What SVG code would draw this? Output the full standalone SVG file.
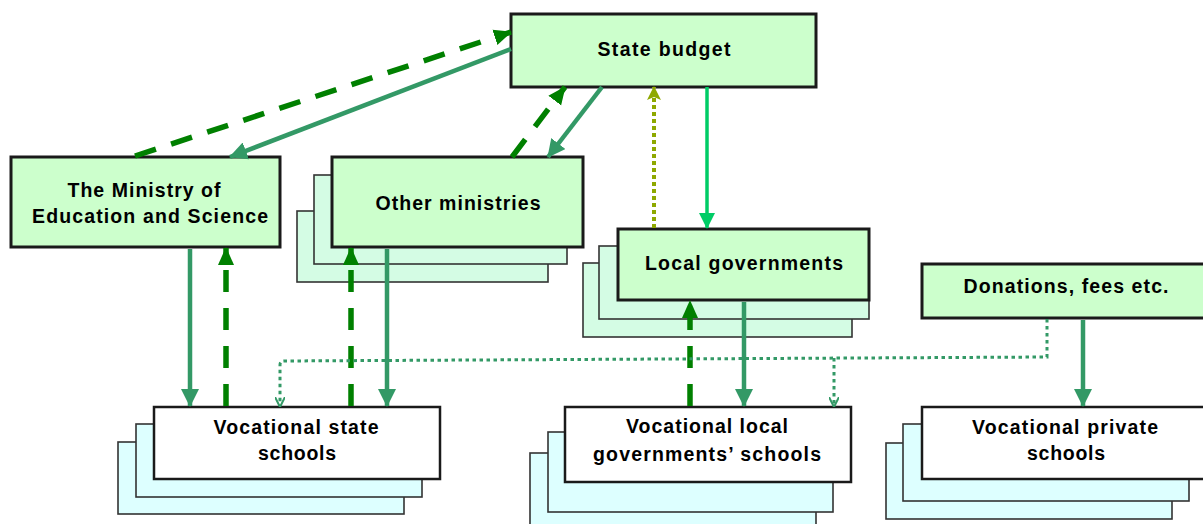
<svg xmlns="http://www.w3.org/2000/svg" width="1203" height="524" viewBox="0 0 1203 524">
<style>
.front{fill:#ccffcc;stroke:#1a1a1a;stroke-width:3}
.school{fill:#ffffff;stroke:#1a1a1a;stroke-width:2.5}
.backg{fill:#d4fce4;stroke:#333333;stroke-width:1.6}
.backc{fill:#ddffff;stroke:#333333;stroke-width:1.6}
text{font-family:"Liberation Sans",Arial,sans-serif;font-weight:bold;font-size:19.5px;fill:#000;text-anchor:middle}
.solid{stroke:#339966;stroke-width:4.5;fill:none}
.dash{stroke:#008000;stroke-width:5.5;fill:none;stroke-dasharray:22 16}
.bright{stroke:#00cc66;stroke-width:3.5;fill:none}
.olive{stroke:#8ea800;stroke-width:4;fill:none;stroke-dasharray:4 3}
.dot{stroke:#339966;stroke-width:3;fill:none;stroke-dasharray:3.5 3.5}
</style>
<defs>
<marker id="hSolid" markerUnits="userSpaceOnUse" markerWidth="18" markerHeight="18" viewBox="0 0 18 18" refX="17" refY="9" orient="auto"><path d="M0,0 L18,9 L0,18 Z" fill="#339966"/></marker>
<marker id="hDash" markerUnits="userSpaceOnUse" markerWidth="18" markerHeight="18" viewBox="0 0 18 18" refX="17" refY="9" orient="auto"><path d="M0,1 L18,9 L0,17 Z" fill="#008000"/></marker>
<marker id="hBright" markerUnits="userSpaceOnUse" markerWidth="16" markerHeight="16" viewBox="0 0 16 16" refX="15" refY="8" orient="auto"><path d="M0,0 L16,8 L0,16 Z" fill="#00cc66"/></marker>
<marker id="hOlive" markerUnits="userSpaceOnUse" markerWidth="14" markerHeight="14" viewBox="0 0 14 14" refX="13" refY="7" orient="auto"><path d="M0,0 L14,7 L0,14 L3,7 Z" fill="#8ea800"/></marker>
<marker id="hDot" markerUnits="userSpaceOnUse" markerWidth="10" markerHeight="10" viewBox="0 0 10 10" refX="9" refY="5" orient="auto"><path d="M0,0 L10,5 L0,10" fill="none" stroke="#339966" stroke-width="2"/></marker>
</defs>

<g id="state-budget">
<rect class="front" x="511" y="14" width="305" height="73"/>
<text x="664" y="56" textLength="133" lengthAdjust="spacing">State budget</text>
</g>

<g id="ministry-education">
<rect class="front" x="11" y="157" width="269" height="90"/>
<text x="144" y="197" textLength="153" lengthAdjust="spacing">The Ministry of</text>
<text x="150" y="223" textLength="236" lengthAdjust="spacing">Education and Science</text>
</g>

<g id="other-ministries">
<rect class="backg" x="297" y="211" width="251" height="71"/>
<rect class="backg" x="314" y="175" width="253" height="89"/>
<rect class="front" x="332" y="157" width="251" height="90"/>
<text x="458" y="210" textLength="165" lengthAdjust="spacing">Other ministries</text>
</g>

<g id="local-governments">
<rect class="backg" x="583" y="263" width="269" height="74"/>
<rect class="backg" x="599" y="246" width="270" height="73"/>
<rect class="front" x="618" y="229" width="251" height="71"/>
<text x="744" y="270" textLength="198" lengthAdjust="spacing">Local governments</text>
</g>

<g id="donations">
<rect class="front" x="922" y="264" width="290" height="54"/>
<text x="1066" y="293" textLength="205" lengthAdjust="spacing">Donations, fees etc.</text>
</g>

<g id="state-schools">
<rect class="backc" x="118" y="442" width="286" height="72"/>
<rect class="backc" x="136" y="424" width="286" height="73"/>
<rect class="school" x="154" y="407" width="286" height="72"/>
<text x="296" y="434" textLength="165" lengthAdjust="spacing">Vocational state</text>
<text x="297" y="460" textLength="78" lengthAdjust="spacing">schools</text>
</g>

<g id="local-schools">
<rect class="backc" x="530" y="453" width="286" height="80"/>
<rect class="backc" x="548" y="432" width="285" height="80"/>
<rect class="school" x="565" y="407" width="286" height="75"/>
<text x="707" y="433" textLength="162" lengthAdjust="spacing">Vocational local</text>
<text x="707" y="461" textLength="228" lengthAdjust="spacing">governments’ schools</text>
</g>

<g id="private-schools">
<rect class="backc" x="886" y="443" width="286" height="76"/>
<rect class="backc" x="903" y="424" width="286" height="77"/>
<rect class="school" x="922" y="407" width="290" height="72"/>
<text x="1065" y="434" textLength="186" lengthAdjust="spacing">Vocational private</text>
<text x="1066" y="460" textLength="78" lengthAdjust="spacing">schools</text>
</g>

<g id="connectors">
<line class="dash" x1="135" y1="156" x2="511" y2="32" marker-end="url(#hDash)"/>
<line class="solid" x1="511" y1="49" x2="230" y2="157" marker-end="url(#hSolid)"/>
<line class="dash" x1="512" y1="157" x2="565" y2="87" marker-end="url(#hDash)"/>
<line class="solid" x1="602" y1="87" x2="548" y2="157" marker-end="url(#hSolid)"/>
<line class="olive" x1="654" y1="228" x2="654" y2="87" marker-end="url(#hOlive)"/>
<line class="bright" x1="707" y1="87" x2="707" y2="228" marker-end="url(#hBright)"/>
<line class="solid" x1="190" y1="249" x2="190" y2="406" marker-end="url(#hSolid)"/>
<line class="dash" x1="226" y1="406" x2="226" y2="248" marker-end="url(#hDash)"/>
<line class="dash" x1="351" y1="406" x2="351" y2="248" marker-end="url(#hDash)"/>
<line class="solid" x1="387" y1="249" x2="387" y2="406" marker-end="url(#hSolid)"/>
<line class="dash" x1="690" y1="406" x2="690" y2="301" marker-end="url(#hDash)"/>
<line class="solid" x1="744" y1="302" x2="744" y2="406" marker-end="url(#hSolid)"/>
<line class="solid" x1="1083" y1="320" x2="1083" y2="406" marker-end="url(#hSolid)"/>
<path class="dot" d="M1047,319 L1047,357 L284,361 Q280,361 280,365 L280,406" marker-end="url(#hDot)"/>
<path class="dot" d="M834,358 L834,406" marker-end="url(#hDot)"/>
</g>
</svg>
